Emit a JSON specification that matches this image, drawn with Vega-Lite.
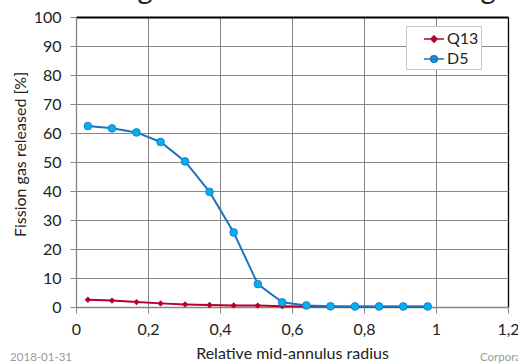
{
  "$schema": "https://vega.github.io/schema/vega-lite/v6.json",
  "width": 432,
  "height": 290,
  "autosize": {"type": "none"},
  "padding": {"left": 76, "top": 17, "right": 10, "bottom": 56},
  "background": "white",
  "title": {
    "text": "A larger fraction of D5 has intergranular fission gas",
    "anchor": "start",
    "frame": "group",
    "baseline": "alphabetic",
    "offset": -19,
    "dx": 4,
    "font": "Lato",
    "fontSize": 29,
    "fontWeight": "normal",
    "color": "#222222"
  },
  "config": {
    "view": {"stroke": null},
    "font": "Lato",
    "axis": {
      "labelFont": "Lato",
      "labelFontSize": 16,
      "labelColor": "#222222",
      "titleFont": "Lato",
      "titleFontSize": 16,
      "titleFontWeight": "normal",
      "titleColor": "#222222",
      "domainColor": "#868686",
      "domainWidth": 1.3,
      "tickColor": "#868686",
      "tickSize": 6,
      "gridColor": "#868686",
      "gridOpacity": 1
    }
  },
  "datasets": {
    "fgr": [
      {"series": "Q13", "r": 0.033, "fgr": 2.5},
      {"series": "Q13", "r": 0.1, "fgr": 2.2},
      {"series": "Q13", "r": 0.168, "fgr": 1.7},
      {"series": "Q13", "r": 0.235, "fgr": 1.25},
      {"series": "Q13", "r": 0.303, "fgr": 0.9},
      {"series": "Q13", "r": 0.371, "fgr": 0.7},
      {"series": "Q13", "r": 0.438, "fgr": 0.55},
      {"series": "Q13", "r": 0.505, "fgr": 0.5},
      {"series": "Q13", "r": 0.573, "fgr": 0.3},
      {"series": "Q13", "r": 0.64, "fgr": 0.2},
      {"series": "Q13", "r": 0.707, "fgr": 0.15},
      {"series": "Q13", "r": 0.775, "fgr": 0.1},
      {"series": "Q13", "r": 0.842, "fgr": 0.1},
      {"series": "Q13", "r": 0.909, "fgr": 0.1},
      {"series": "Q13", "r": 0.977, "fgr": 0.1},
      {"series": "D5", "r": 0.033, "fgr": 62.4},
      {"series": "D5", "r": 0.1, "fgr": 61.6},
      {"series": "D5", "r": 0.168, "fgr": 60.2},
      {"series": "D5", "r": 0.235, "fgr": 56.9},
      {"series": "D5", "r": 0.303, "fgr": 50.2},
      {"series": "D5", "r": 0.371, "fgr": 39.7},
      {"series": "D5", "r": 0.438, "fgr": 25.7},
      {"series": "D5", "r": 0.505, "fgr": 7.9},
      {"series": "D5", "r": 0.573, "fgr": 1.6},
      {"series": "D5", "r": 0.64, "fgr": 0.55},
      {"series": "D5", "r": 0.707, "fgr": 0.25},
      {"series": "D5", "r": 0.775, "fgr": 0.2},
      {"series": "D5", "r": 0.842, "fgr": 0.2},
      {"series": "D5", "r": 0.909, "fgr": 0.2},
      {"series": "D5", "r": 0.977, "fgr": 0.2}
    ],
    "notes": [
      {"note": "2018-01-31", "side": "left"},
      {"note": "Corporate", "side": "right"}
    ]
  },
  "layer": [
    {
      "data": {"name": "fgr"},
      "transform": [{"filter": "datum.series == 'Q13'"}],
      "mark": {"type": "line", "color": "#B8002E", "strokeWidth": 2, "clip": false},
      "encoding": {
        "x": {"field": "r", "type": "quantitative", "scale": {"domain": [0, 1.2], "nice": false, "zero": false},
          "axis": {"title": "Relative mid-annulus radius", "values": [0, 0.2, 0.4, 0.6, 0.8, 1, 1.2], "labelExpr": "replace(format(datum.value, '~g'), '.', ',')", "labelFlush": false, "labelOverlap": false, "labelPadding": 8, "titlePadding": 8, "grid": true,
            "gridColor": {"condition": {"test": "datum.value > 1.19", "value": "#000000"}, "value": "#868686"},
            "gridWidth": {"condition": {"test": "datum.value > 1.19", "value": 1.3}, "value": 1}}},
        "y": {"field": "fgr", "type": "quantitative", "scale": {"domain": [0, 100], "nice": false, "zero": false},
          "axis": {"title": "Fission gas released [%]", "values": [0, 10, 20, 30, 40, 50, 60, 70, 80, 90, 100], "labelOverlap": false, "labelPadding": 9, "titlePadding": 5, "titleY": 137, "grid": true,
            "gridColor": {"condition": {"test": "datum.value > 99", "value": "#000000"}, "value": "#868686"},
            "gridWidth": {"condition": {"test": "datum.value > 99", "value": 2}, "value": 1}}},
        "order": {"field": "r"}
      }
    },
    {
      "data": {"name": "fgr"},
      "transform": [{"filter": "datum.series == 'Q13'"}],
      "mark": {"type": "point", "shape": "diamond", "filled": true, "color": "#B8002E", "opacity": 1, "size": 40},
      "encoding": {
        "x": {"field": "r", "type": "quantitative", "scale": {"domain": [0, 1.2], "nice": false, "zero": false},
          "axis": {"title": "Relative mid-annulus radius", "values": [0, 0.2, 0.4, 0.6, 0.8, 1, 1.2], "labelExpr": "replace(format(datum.value, '~g'), '.', ',')", "labelFlush": false, "labelOverlap": false, "labelPadding": 8, "titlePadding": 8, "grid": true,
            "gridColor": {"condition": {"test": "datum.value > 1.19", "value": "#000000"}, "value": "#868686"},
            "gridWidth": {"condition": {"test": "datum.value > 1.19", "value": 1.3}, "value": 1}}},
        "y": {"field": "fgr", "type": "quantitative", "scale": {"domain": [0, 100], "nice": false, "zero": false},
          "axis": {"title": "Fission gas released [%]", "values": [0, 10, 20, 30, 40, 50, 60, 70, 80, 90, 100], "labelOverlap": false, "labelPadding": 9, "titlePadding": 5, "titleY": 137, "grid": true,
            "gridColor": {"condition": {"test": "datum.value > 99", "value": "#000000"}, "value": "#868686"},
            "gridWidth": {"condition": {"test": "datum.value > 99", "value": 2}, "value": 1}}}
      }
    },
    {
      "data": {"name": "fgr"},
      "transform": [{"filter": "datum.series == 'D5'"}],
      "mark": {"type": "line", "color": "#1F72BD", "strokeWidth": 2, "clip": false},
      "encoding": {
        "x": {"field": "r", "type": "quantitative", "scale": {"domain": [0, 1.2], "nice": false, "zero": false},
          "axis": {"title": "Relative mid-annulus radius", "values": [0, 0.2, 0.4, 0.6, 0.8, 1, 1.2], "labelExpr": "replace(format(datum.value, '~g'), '.', ',')", "labelFlush": false, "labelOverlap": false, "labelPadding": 8, "titlePadding": 8, "grid": true,
            "gridColor": {"condition": {"test": "datum.value > 1.19", "value": "#000000"}, "value": "#868686"},
            "gridWidth": {"condition": {"test": "datum.value > 1.19", "value": 1.3}, "value": 1}}},
        "y": {"field": "fgr", "type": "quantitative", "scale": {"domain": [0, 100], "nice": false, "zero": false},
          "axis": {"title": "Fission gas released [%]", "values": [0, 10, 20, 30, 40, 50, 60, 70, 80, 90, 100], "labelOverlap": false, "labelPadding": 9, "titlePadding": 5, "titleY": 137, "grid": true,
            "gridColor": {"condition": {"test": "datum.value > 99", "value": "#000000"}, "value": "#868686"},
            "gridWidth": {"condition": {"test": "datum.value > 99", "value": 2}, "value": 1}}},
        "order": {"field": "r"}
      }
    },
    {
      "data": {"name": "fgr"},
      "transform": [{"filter": "datum.series == 'D5'"}],
      "mark": {"type": "point", "shape": "circle", "filled": true, "fill": "#00B0F0", "stroke": "#1F72BD", "strokeWidth": 0.8, "opacity": 1, "size": 60},
      "encoding": {
        "x": {"field": "r", "type": "quantitative", "scale": {"domain": [0, 1.2], "nice": false, "zero": false},
          "axis": {"title": "Relative mid-annulus radius", "values": [0, 0.2, 0.4, 0.6, 0.8, 1, 1.2], "labelExpr": "replace(format(datum.value, '~g'), '.', ',')", "labelFlush": false, "labelOverlap": false, "labelPadding": 8, "titlePadding": 8, "grid": true,
            "gridColor": {"condition": {"test": "datum.value > 1.19", "value": "#000000"}, "value": "#868686"},
            "gridWidth": {"condition": {"test": "datum.value > 1.19", "value": 1.3}, "value": 1}}},
        "y": {"field": "fgr", "type": "quantitative", "scale": {"domain": [0, 100], "nice": false, "zero": false},
          "axis": {"title": "Fission gas released [%]", "values": [0, 10, 20, 30, 40, 50, 60, 70, 80, 90, 100], "labelOverlap": false, "labelPadding": 9, "titlePadding": 5, "titleY": 137, "grid": true,
            "gridColor": {"condition": {"test": "datum.value > 99", "value": "#000000"}, "value": "#868686"},
            "gridWidth": {"condition": {"test": "datum.value > 99", "value": 2}, "value": 1}}}
      }
    },
    {
      "data": {"name": "fgr"},
      "transform": [{"filter": "datum.fgr < -1000"}],
      "mark": {"type": "point", "filled": true, "opacity": 1},
      "encoding": {
        "x": {"field": "r", "type": "quantitative", "scale": {"domain": [0, 1.2], "nice": false, "zero": false},
          "axis": {"title": "Relative mid-annulus radius", "values": [0, 0.2, 0.4, 0.6, 0.8, 1, 1.2], "labelExpr": "replace(format(datum.value, '~g'), '.', ',')", "labelFlush": false, "labelOverlap": false, "labelPadding": 8, "titlePadding": 8, "grid": true,
            "gridColor": {"condition": {"test": "datum.value > 1.19", "value": "#000000"}, "value": "#868686"},
            "gridWidth": {"condition": {"test": "datum.value > 1.19", "value": 1.3}, "value": 1}}},
        "y": {"field": "fgr", "type": "quantitative", "scale": {"domain": [0, 100], "nice": false, "zero": false},
          "axis": {"title": "Fission gas released [%]", "values": [0, 10, 20, 30, 40, 50, 60, 70, 80, 90, 100], "labelOverlap": false, "labelPadding": 9, "titlePadding": 5, "titleY": 137, "grid": true,
            "gridColor": {"condition": {"test": "datum.value > 99", "value": "#000000"}, "value": "#868686"},
            "gridWidth": {"condition": {"test": "datum.value > 99", "value": 2}, "value": 1}}},
        "shape": {
          "field": "series",
          "type": "nominal",
          "scale": {
            "domain": ["Q13", "D5"],
            "range": [
              "M-1,0H1M0,-0.3L0.3,0L0,0.3L-0.3,0Z",
              "M-1,0H1M0.33,0A0.33,0.33,0,1,1,-0.33,0A0.33,0.33,0,1,1,0.33,0Z"
            ]
          },
          "legend": {
            "title": null, "orient": "none", "legendX": 330, "legendY": 9,
            "symbolSize": 400, "symbolStrokeWidth": 1.6, "symbolOffset": 15, "labelOffset": 2,
            "labelExpr": "datum.label + '\u00a0\u00a0\u00a0'",
            "padding": 2, "rowPadding": 1, "fillColor": "#ffffff", "strokeColor": "#c8c8c8",
            "labelFont": "Lato", "labelFontSize": 16, "labelColor": "#222222", "symbolOpacity": 1
          }
        },
        "fill": {
          "field": "series",
          "type": "nominal",
          "scale": {"domain": ["Q13", "D5"], "range": ["#B8002E", "#00B0F0"]},
          "legend": {
            "title": null, "orient": "none", "legendX": 330, "legendY": 9,
            "symbolSize": 400, "symbolStrokeWidth": 1.6, "symbolOffset": 15, "labelOffset": 2,
            "labelExpr": "datum.label + '\u00a0\u00a0\u00a0'",
            "padding": 2, "rowPadding": 1, "fillColor": "#ffffff", "strokeColor": "#c8c8c8",
            "labelFont": "Lato", "labelFontSize": 16, "labelColor": "#222222", "symbolOpacity": 1
          }
        },
        "stroke": {
          "field": "series",
          "type": "nominal",
          "scale": {"domain": ["Q13", "D5"], "range": ["#B8002E", "#1F72BD"]},
          "legend": {
            "title": null, "orient": "none", "legendX": 330, "legendY": 9,
            "symbolSize": 400, "symbolStrokeWidth": 1.6, "symbolOffset": 15, "labelOffset": 2,
            "labelExpr": "datum.label + '\u00a0\u00a0\u00a0'",
            "padding": 2, "rowPadding": 1, "fillColor": "#ffffff", "strokeColor": "#c8c8c8",
            "labelFont": "Lato", "labelFontSize": 16, "labelColor": "#222222", "symbolOpacity": 1
          }
        }
      }
    },
    {
      "data": {"name": "notes"},
      "transform": [{"filter": "datum.side == 'left'"}],
      "mark": {"type": "text", "align": "left", "baseline": "alphabetic", "font": "Lato", "fontSize": 11.5, "fill": "#9a9a9a"},
      "encoding": {
        "x": {"datum": -0.183, "type": "quantitative", "scale": {"domain": [0, 1.2], "nice": false, "zero": false},
          "axis": {"title": "Relative mid-annulus radius", "values": [0, 0.2, 0.4, 0.6, 0.8, 1, 1.2], "labelExpr": "replace(format(datum.value, '~g'), '.', ',')", "labelFlush": false, "labelOverlap": false, "labelPadding": 8, "titlePadding": 8, "grid": true,
            "gridColor": {"condition": {"test": "datum.value > 1.19", "value": "#000000"}, "value": "#868686"},
            "gridWidth": {"condition": {"test": "datum.value > 1.19", "value": 1.3}, "value": 1}}},
        "y": {"datum": -18.6, "type": "quantitative", "scale": {"domain": [0, 100], "nice": false, "zero": false},
          "axis": {"title": "Fission gas released [%]", "values": [0, 10, 20, 30, 40, 50, 60, 70, 80, 90, 100], "labelOverlap": false, "labelPadding": 9, "titlePadding": 5, "titleY": 137, "grid": true,
            "gridColor": {"condition": {"test": "datum.value > 99", "value": "#000000"}, "value": "#868686"},
            "gridWidth": {"condition": {"test": "datum.value > 99", "value": 2}, "value": 1}}},
        "text": {"field": "note", "type": "nominal"}
      }
    },
    {
      "data": {"name": "notes"},
      "transform": [{"filter": "datum.side == 'right'"}],
      "mark": {"type": "text", "align": "left", "baseline": "alphabetic", "font": "Lato", "fontSize": 11.5, "fill": "#9a9a9a"},
      "encoding": {
        "x": {"datum": 1.122, "type": "quantitative", "scale": {"domain": [0, 1.2], "nice": false, "zero": false},
          "axis": {"title": "Relative mid-annulus radius", "values": [0, 0.2, 0.4, 0.6, 0.8, 1, 1.2], "labelExpr": "replace(format(datum.value, '~g'), '.', ',')", "labelFlush": false, "labelOverlap": false, "labelPadding": 8, "titlePadding": 8, "grid": true,
            "gridColor": {"condition": {"test": "datum.value > 1.19", "value": "#000000"}, "value": "#868686"},
            "gridWidth": {"condition": {"test": "datum.value > 1.19", "value": 1.3}, "value": 1}}},
        "y": {"datum": -18.6, "type": "quantitative", "scale": {"domain": [0, 100], "nice": false, "zero": false},
          "axis": {"title": "Fission gas released [%]", "values": [0, 10, 20, 30, 40, 50, 60, 70, 80, 90, 100], "labelOverlap": false, "labelPadding": 9, "titlePadding": 5, "titleY": 137, "grid": true,
            "gridColor": {"condition": {"test": "datum.value > 99", "value": "#000000"}, "value": "#868686"},
            "gridWidth": {"condition": {"test": "datum.value > 99", "value": 2}, "value": 1}}},
        "text": {"field": "note", "type": "nominal"}
      }
    }
  ]
}
